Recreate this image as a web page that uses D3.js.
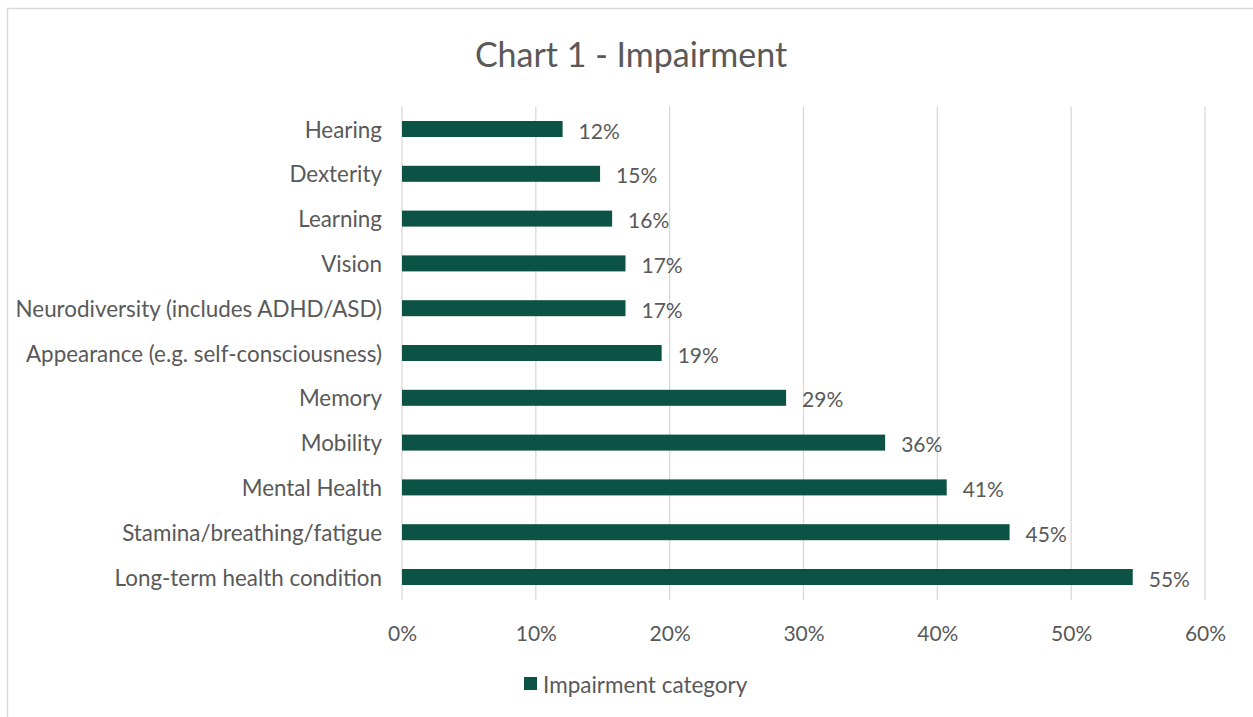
<!DOCTYPE html>
<html>
<head>
<meta charset="utf-8">
<script src="https://cdn.jsdelivr.net/npm/d3@7"></script>
<style>
  html, body { margin: 0; padding: 0; background: #fff; }
  svg { display: block; }
  text { font-family: Lato, "Open Sans", sans-serif; fill: #595959; }
</style>
</head>
<body>
<svg id="chart" width="1253" height="717"></svg>
<script>
const categories = [
  "Hearing",
  "Dexterity",
  "Learning",
  "Vision",
  "Neurodiversity (includes ADHD/ASD)",
  "Appearance (e.g. self-consciousness)",
  "Memory",
  "Mobility",
  "Mental Health",
  "Stamina/breathing/fatigue",
  "Long-term health condition"
];
const values = [0.12, 0.148, 0.157, 0.167, 0.167, 0.194, 0.287, 0.361, 0.407, 0.454, 0.546];
const valueLabels = ["12%", "15%", "16%", "17%", "17%", "19%", "29%", "36%", "41%", "45%", "55%"];
const xTicks = [0, 0.1, 0.2, 0.3, 0.4, 0.5, 0.6];
const seriesName = "Impairment category";
const title = "Chart 1 - Impairment";

const svg = d3.select("#chart");
const barColor = "#0c5245";

// outer frame (only left/top visible)
svg.append("rect")
  .attr("x", 7.5).attr("y", 8.5)
  .attr("width", 1300).attr("height", 800)
  .attr("fill", "none").attr("stroke", "#d9d9d9").attr("stroke-width", 1.5);

const x = d3.scaleLinear().domain([0, 0.6]).range([402, 1205]);
const y = d3.scaleBand().domain(categories).range([106.6, 599.4]).padding(0);
const barH = 16;

// title
svg.append("text")
  .attr("x", 631).attr("y", 53)
  .attr("text-anchor", "middle").attr("dominant-baseline", "central")
  .style("font-size", "34px")
  .text(title);

// gridlines
svg.append("g").selectAll("line").data(xTicks).join("line")
  .attr("x1", d => x(d)).attr("x2", d => x(d))
  .attr("y1", 106.6).attr("y2", 600)
  .attr("stroke", "#d9d9d9").attr("stroke-width", 1.3);

// x tick labels
const xAxis = d3.axisBottom(x).tickValues(xTicks).tickFormat(d3.format(".0%")).tickSize(0).tickPadding(0);
const gx = svg.append("g").attr("transform", "translate(0,632)").call(xAxis);
gx.select(".domain").remove();
gx.selectAll("text")
  .attr("y", 0).attr("dy", null)
  .attr("dominant-baseline", "central")
  .style("font-size", "21px")
  .style("font-family", "Lato, 'Open Sans', sans-serif")
  .attr("fill", "#595959");

// bars
svg.append("g").selectAll("rect").data(values).join("rect")
  .attr("x", x(0))
  .attr("y", (d, i) => y(categories[i]) + y.bandwidth() / 2 - barH / 2)
  .attr("width", d => x(d) - x(0))
  .attr("height", barH)
  .attr("fill", barColor);

// value labels
svg.append("g").selectAll("text").data(values).join("text")
  .attr("x", d => x(d) + 16)
  .attr("y", (d, i) => y(categories[i]) + y.bandwidth() / 2 + 1)
  .attr("dominant-baseline", "central")
  .style("font-size", "21px")
  .text((d, i) => valueLabels[i]);

// category labels
const yAxis = d3.axisLeft(y).tickSize(0).tickPadding(0);
const gy = svg.append("g").attr("transform", "translate(382,0)").call(yAxis);
gy.select(".domain").remove();
gy.selectAll("text")
  .attr("x", 0).attr("dy", null)
  .attr("dominant-baseline", "central")
  .attr("text-anchor", "end")
  .style("font-size", "22.4px")
  .style("font-family", "Lato, 'Open Sans', sans-serif")
  .attr("fill", "#595959");

// legend
svg.append("rect")
  .attr("x", 524).attr("y", 677).attr("width", 13).attr("height", 13)
  .attr("fill", barColor);
svg.append("text")
  .attr("x", 543).attr("y", 684)
  .attr("dominant-baseline", "central")
  .style("font-size", "22.5px")
  .text(seriesName);
</script>
</body>
</html>
